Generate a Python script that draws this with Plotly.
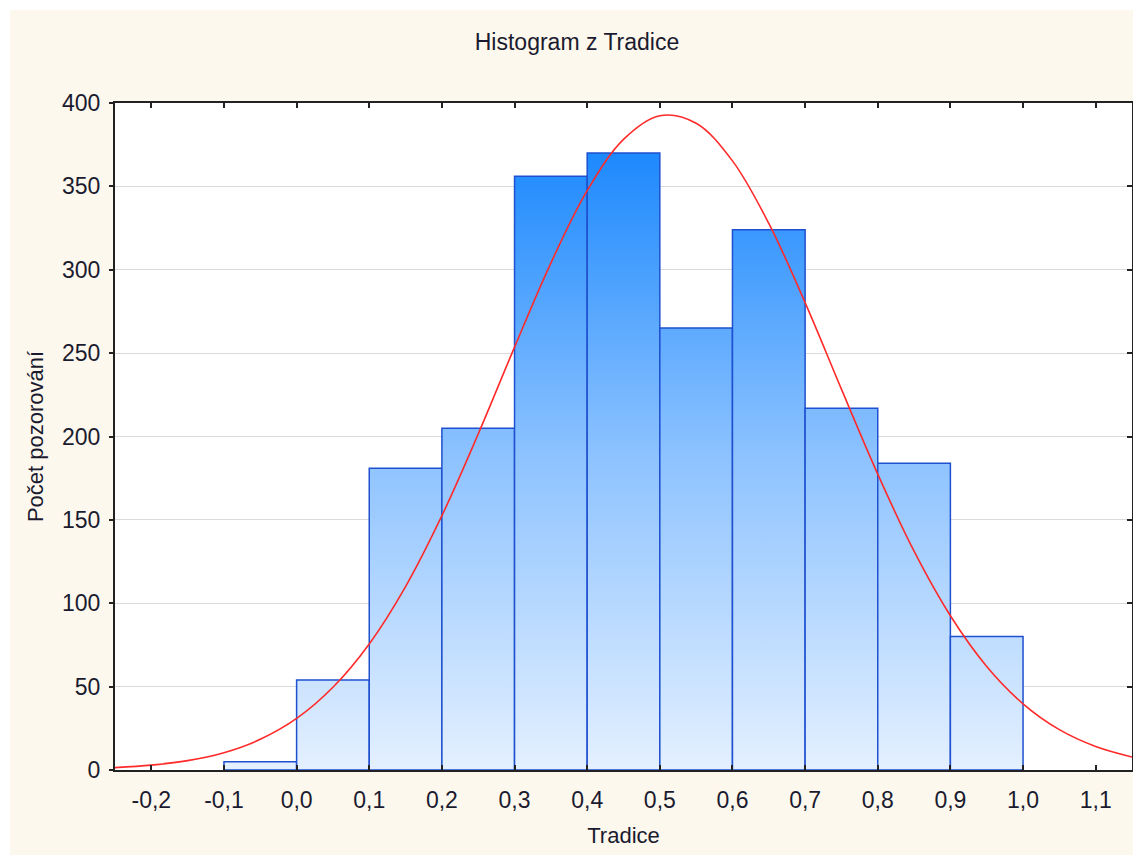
import plotly.graph_objects as go

# ---- data ----
bin_left = [-0.1, 0.0, 0.1, 0.2, 0.3, 0.4, 0.5, 0.6, 0.7, 0.8, 0.9]
bin_width = 0.1
counts = [5, 54, 181, 205, 356, 370, 265, 324, 217, 184, 80]

curve_x = [-0.25, -0.20, -0.15, -0.10, -0.05, 0.00, 0.05, 0.10, 0.15, 0.20, 0.25,
           0.30, 0.35, 0.40, 0.45, 0.50, 0.55, 0.60, 0.65, 0.70, 0.75, 0.80,
           0.85, 0.90, 0.95, 1.00, 1.05, 1.10, 1.15]
curve_y = [1.4, 2.9, 5.6, 10.4, 18.4, 30.9, 49.6, 75.6, 110, 152.5, 201.5,
           253.6, 304, 347.4, 378.2, 392.4, 387.9, 365.3, 327.8, 280.3, 228.4, 177.4,
           131.2, 92.5, 62.1, 39.7, 24.2, 14.1, 7.8]

x_ticks = [-0.2, -0.1, 0.0, 0.1, 0.2, 0.3, 0.4, 0.5, 0.6, 0.7, 0.8, 0.9, 1.0, 1.1]
x_tick_labels = ["-0,2", "-0,1", "0,0", "0,1", "0,2", "0,3", "0,4", "0,5", "0,6",
                 "0,7", "0,8", "0,9", "1,0", "1,1"]
y_ticks = [0, 50, 100, 150, 200, 250, 300, 350, 400]

title = "Histogram z Tradice"
x_title = "Tradice"
y_title = "Počet pozorování"

FONT = "Liberation Sans, Arial, sans-serif"
TXT = "#1b1b30"
FS = 23
FS_T = 22

fig = go.Figure()

for xl, c in zip(bin_left, counts):
    xr = xl + bin_width
    fig.add_trace(go.Scatter(
        x=[xl, xl, xr, xr, xl], y=[0, c, c, 0, 0],
        mode="lines", fill="toself",
        line=dict(color="#1f50cf", width=1.5),
        fillgradient=dict(type="vertical", start=0, stop=380,
                          colorscale=[[0, "#e4f0ff"], [0.5, "#8cc2ff"], [1, "#1786fd"]]),
        hoverinfo="skip", showlegend=False))

fig.add_trace(go.Scatter(
    x=curve_x, y=curve_y, mode="lines",
    line=dict(color="#ff2a2a", width=1.6, shape="spline"),
    showlegend=False, hoverinfo="skip"))

# right axis (inside ticks only)
fig.add_trace(go.Scatter(x=[None], y=[None], yaxis="y2", showlegend=False))

# page has an 8px body margin; compensate
OFF = 8
W, H = 1141 - OFF, 855 - OFF
L, T = 115 - OFF, 103 - OFF
R = W - (1134 - OFF)
B = H - (770 - OFF)
pw = W - L - R
ph = H - T - B

fig.update_layout(
    width=W, height=H,
    margin=dict(l=L, r=R, t=T, b=B, pad=0),
    paper_bgcolor="white",
    plot_bgcolor="white",
    font=dict(family=FONT, size=FS, color=TXT),
    title=dict(text=title, x=569 / W, xanchor="center", y=1 - 34 / H, yanchor="middle",
               font=dict(family=FONT, size=FS, color=TXT)),
    xaxis=dict(range=[-0.25, 1.15], tickvals=x_ticks, ticktext=x_tick_labels,
               ticks="inside", ticklen=5, tickwidth=1.5, tickcolor="#222",
               showline=True, linecolor="#222", linewidth=2, mirror="ticks",
               showgrid=False, zeroline=False, ticklabelstandoff=8,
               title=dict(text=x_title, standoff=16, font=dict(size=FS_T)),
               tickfont=dict(size=FS)),
    yaxis=dict(range=[0, 400], tickvals=y_ticks,
               ticks="outside", ticklen=4, tickwidth=1.5, tickcolor="#222",
               showline=True, linecolor="#222", linewidth=2, mirror=True,
               showgrid=True, gridcolor="#dadada", gridwidth=1, zeroline=False,
               ticklabelstandoff=4,
               title=dict(text=y_title, standoff=12, font=dict(size=FS_T)),
               tickfont=dict(size=FS)),
    yaxis2=dict(range=[0, 400], tickvals=y_ticks, overlaying="y", side="right",
                ticks="inside", ticklen=5, tickwidth=1.5, tickcolor="#222",
                showticklabels=False, showgrid=False, zeroline=False, showline=False),
    shapes=[
        dict(type="rect", xref="paper", yref="paper", layer="below",
             x0=(2 - L) / pw, x1=(W + 5 - L) / pw,
             y0=-(B + 10) / ph, y1=1 + (T - 2) / ph,
             fillcolor="#fdf8ed", line=dict(width=0)),
        dict(type="rect", xref="paper", yref="paper", layer="below",
             x0=0, x1=1, y0=0, y1=1, fillcolor="white", line=dict(width=0)),
    ],
)

fig.write_html("out.html")
